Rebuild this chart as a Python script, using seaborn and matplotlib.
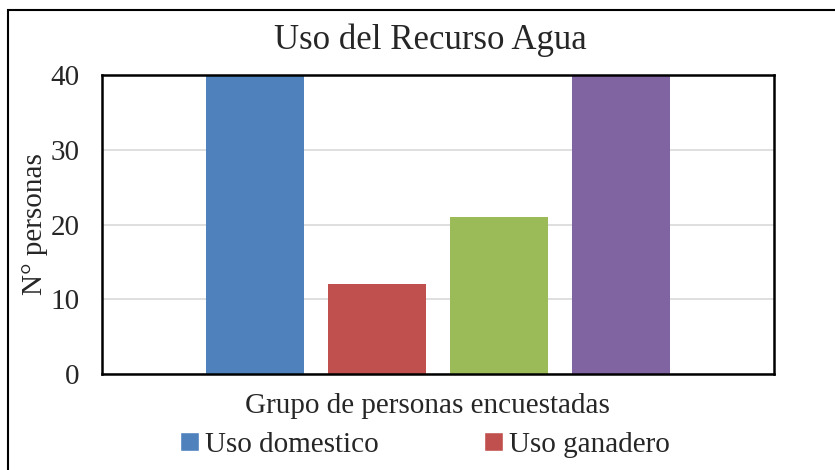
import pandas as pd
import seaborn as sns
import matplotlib.pyplot as plt
from matplotlib.patches import Patch, Rectangle

# datos
grupo = ['Grupo de personas encuestadas'] * 4
usos = ['Uso domestico', 'Uso ganadero', 'Uso agricola', 'Otros usos']
personas = [40, 12, 21, 40]
colores = ['#4F81BD', '#C0504D', '#9BBB59', '#8064A2']

df = pd.DataFrame({'grupo': grupo, 'uso': usos, 'personas': personas})

sns.set_style('white')
plt.rcParams['font.family'] = ['Liberation Serif', 'DejaVu Serif']
plt.rcParams['font.size'] = 21

fig = plt.figure(figsize=(8.35, 4.70), dpi=100)
ax = fig.add_axes([102 / 835, 1 - 374 / 470, 672 / 835, 299 / 470])

sns.barplot(data=df, x='grupo', y='personas', hue='uso', palette=colores,
            width=0.8, gap=0.2, saturation=1, linewidth=0, legend=False, ax=ax)

ax.set_xlim(-0.55, 0.55)
ax.set_ylim(0, 40)
ax.set_yticks([0, 10, 20, 30, 40])
ax.set_xticks([])
ax.tick_params(axis='y', length=0, pad=16, labelsize=21)
ax.yaxis.grid(True, color='#d9d9d9', linewidth=1.2)
ax.set_axisbelow(True)
for s in ax.spines.values():
    s.set_visible(True)
    s.set_color('black')
    s.set_linewidth(1.8)

ax.set_xlabel('Grupo de personas encuestadas', fontsize=21, va='center')
ax.xaxis.set_label_coords((427 - 102) / 672, (374 - 406) / 299)
ax.set_ylabel('N° personas', fontsize=21, va='center')
ax.yaxis.set_label_coords((35 - 102) / 672, 0.5)
ax.set_title('Uso del Recurso Agua', fontsize=25, va='center',
             x=(430 - 102) / 672, y=(374 - 49) / 299)

handles = [Patch(facecolor=c, label=u) for c, u in zip(colores[:2], usos[:2])]
fig.legend(handles=handles, ncol=2, frameon=False, loc='center',
           bbox_to_anchor=(425 / 835, 1 - 445 / 470), fontsize=21,
           handlelength=0.65, handleheight=0.65, handletextpad=0.2,
           columnspacing=3.6, borderpad=0)

# marco del area del grafico (recortado a la derecha y abajo)
fig.patches.append(Rectangle((8 / 835, -0.1), 1.2, 1.1 - 10 / 470,
                             transform=fig.transFigure, fill=False,
                             edgecolor='black', linewidth=1.5))

fig.savefig('out.png', dpi=100)
